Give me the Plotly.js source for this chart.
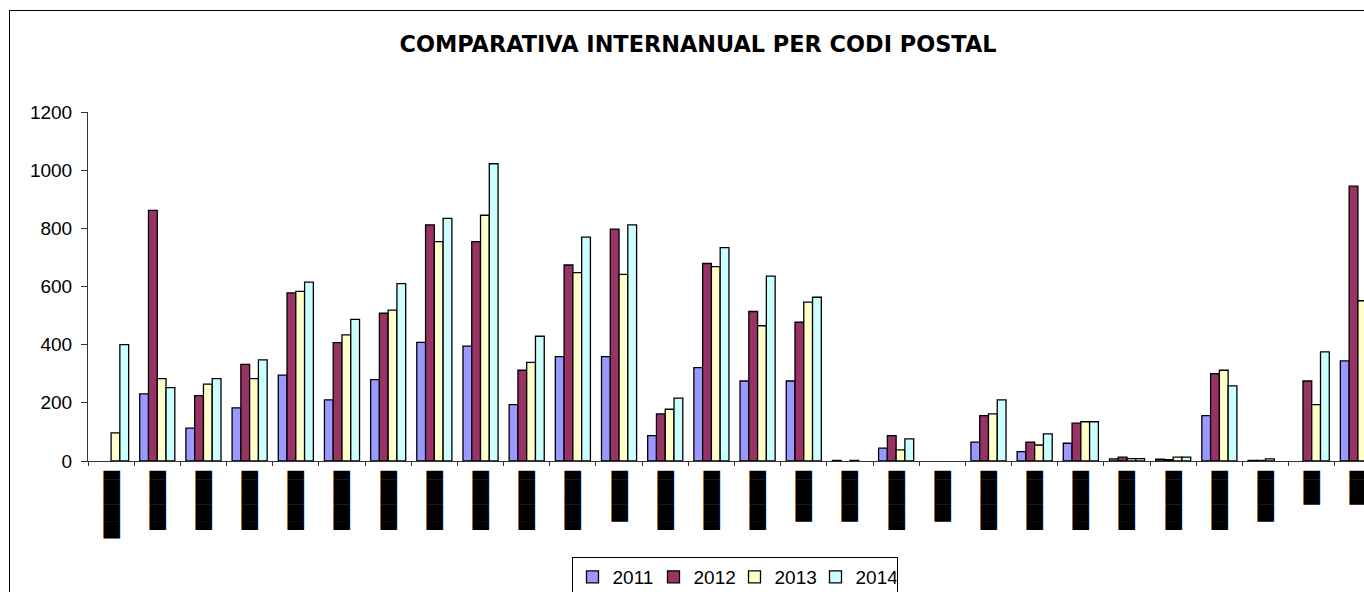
<!DOCTYPE html>
<html>
<head>
<meta charset="utf-8">
<script src="https://cdn.plot.ly/plotly-3.0.1.min.js"></script>
<style>
html, body { margin:0; padding:0; overflow:hidden; background:#fff; }
#frame { position:absolute; left:9px; top:10px; width:1376px; height:620px; border:1px solid #000; }
#chart { width:1376px; height:620px; }
</style>
</head>
<body>
<div id="frame"><div id="chart"></div></div>
<script>
// Category identifiers (postal codes, hidden in the original as black blocks)
const categories = ["CP01","CP02","CP03","CP04","CP05","CP06","CP07","CP08","CP09","CP10",
                    "CP11","CP12","CP13","CP14","CP15","CP16","CP17","CP18","CP19","CP20",
                    "CP21","CP22","CP23","CP24","CP25","CP26","CP27","CP28"];
// Tick labels as shown in the reference (blacked-out text)
const tickLabels = ["████████","███████","███████","███████","███████","███████","███████","███████","███████","███████",
                    "███████","██████","███████","███████","███████","██████","██████","███████","██████","███████",
                    "███████","███████","███████","███████","███████","██████","████","████"];
const years = ["2011","2012","2013","2014"];
const v2011 = [null,231,113,183,295,210,280,408,395,194,359,359,87,321,275,275,2,44,null,65,32,61,7,6,156,2,null,344];
const v2012 = [null,862,225,332,578,407,508,812,754,312,674,797,162,679,514,477,null,87,null,156,65,130,13,5,300,2,275,945];
const v2013 = [97,283,264,283,583,434,519,754,845,339,648,642,178,668,465,546,2,38,null,162,55,135,8,13,312,7,194,551];
const v2014 = [400,252,283,348,615,487,610,834,1022,429,770,812,216,734,636,563,null,76,null,210,93,135,8,13,258,null,375,600];
const series = [v2011, v2012, v2013, v2014];
const colors = ["#9999FF","#993366","#FFFFCC","#CCFFFF"];

const traces = series.map((vals, i) => ({
  type: "bar",
  name: years[i],
  x: categories,
  y: vals,
  marker: { color: colors[i], line: { color: "#000", width: 1.3 } },
  hoverinfo: "x+y+name"
}));

const layout = {
  width: 1376, height: 620,
  margin: { l: 78, r: 5, t: 101, b: 170 },
  paper_bgcolor: "#fff", plot_bgcolor: "#fff",
  font: { family: "Liberation Sans, Arial, sans-serif", color: "#000", size: 19 },
  title: {
    text: "COMPARATIVA INTERNANUAL PER CODI POSTAL",
    font: { family: "DejaVu Sans, sans-serif", size: 22.4, weight: "bold", color: "#000" },
    xref: "container", x: 0.5, xanchor: "center",
    yref: "container", y: 1 - 33/620, yanchor: "middle"
  },
  barmode: "group", bargap: 0.24, bargroupgap: 0,
  showlegend: true,
  legend: {
    orientation: "h", x: 0.5, xanchor: "center", y: -0.275, yanchor: "top",
    bordercolor: "#000", borderwidth: 1, bgcolor: "#fff", itemwidth: 30,
    entrywidth: 36, entrywidthmode: "pixels",
    font: { size: 19, family: "Liberation Sans, Arial, sans-serif", color: "#000" }
  },
  xaxis: {
    type: "category", categoryorder: "array", categoryarray: categories,
    tickvals: categories, ticktext: tickLabels, tickangle: 90,
    tickfont: { family: "DejaVu Sans Mono", size: 14, color: "#000" },
    showline: true, linecolor: "#333", linewidth: 1,
    ticks: "outside", ticklen: 4, tickcolor: "#333", tickson: "boundaries",
    showgrid: false, zeroline: false, fixedrange: true, ticklabelstandoff: 6
  },
  yaxis: {
    range: [0, 1200], dtick: 200, tick0: 0,
    showline: true, linecolor: "#333", linewidth: 1,
    ticks: "outside", ticklen: 6, tickcolor: "#333",
    tickfont: { size: 19, family: "Liberation Sans, Arial, sans-serif", color: "#000" },
    showgrid: false, zeroline: false, fixedrange: true, ticklabelstandoff: 5
  }
};

Plotly.newPlot("chart", traces, layout, { displayModeBar: false });
</script>
</body>
</html>
